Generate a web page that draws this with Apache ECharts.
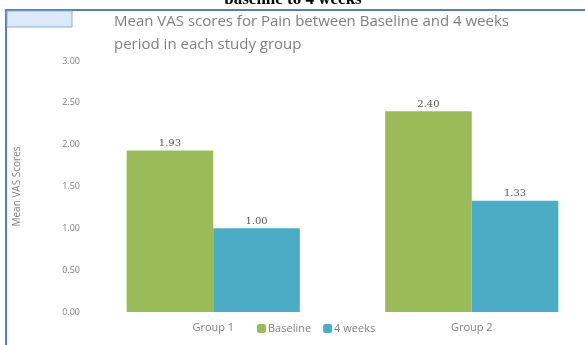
<!DOCTYPE html>
<html><head><meta charset="utf-8">
<style>html,body{margin:0;padding:0;background:#fff;overflow:hidden;}#c{width:625px;height:345px;}</style>
<script src="https://cdn.jsdelivr.net/npm/echarts@6/dist/echarts.min.js"></script>
</head><body><div id="c"></div>
<script>
const categories = ['Group 1', 'Group 2'];
const baseline = [1.93, 2.40];
const weeks4 = [1.00, 1.33];
const seriesNames = ['Baseline', '4 weeks'];
const yTicks = [0, 0.5, 1, 1.5, 2, 2.5, 3];

const chart = echarts.init(document.getElementById('c'), null, {renderer: 'canvas'});
const labelCfg = {show: true, position: 'top', distance: 2, color: '#555', fontSize: 10,
  fontFamily: 'DejaVu Serif', formatter: p => p.value.toFixed(2)};
chart.setOption({
  animation: false,
  title: {
    text: 'Mean VAS scores for Pain between Baseline and 4 weeks\nperiod in each study group',
    left: 109, top: 5,
    textStyle: {color: '#7f7f7f', fontSize: 15, fontWeight: 'normal', fontFamily: 'Open Sans', lineHeight: 23}
  },
  graphic: [
    {type: 'rect', shape: {x: 6, y: 10, width: 640, height: 340}, style: {fill: 'none', stroke: '#4f81bd', lineWidth: 2}, z: 10},
    {type: 'rect', shape: {x: 7, y: 11, width: 65, height: 16}, style: {fill: '#dce9f8', stroke: '#8eaed6', lineWidth: 1}, z: 11},
    {type: 'text', x: 293, y: 8, z: 20, style: {text: 'baseline to 4 weeks', font: 'bold 17px "Liberation Serif"', fill: '#000', align: 'center', verticalAlign: 'bottom'}}
  ],
  legend: {
    data: seriesNames, left: 252, top: 318, itemWidth: 9, itemHeight: 9, itemGap: 12,
    textStyle: {color: '#7f7f7f', fontSize: 11, fontFamily: 'Open Sans', padding: [0, 0, 0, -3]}
  },
  grid: {left: 84, top: 61, width: 517, height: 251},
  xAxis: {
    type: 'category', data: categories,
    axisLine: {show: false}, axisTick: {show: false},
    axisLabel: {color: '#7f7f7f', fontSize: 11, fontFamily: 'Open Sans', margin: 10}
  },
  yAxis: {
    type: 'value', min: 0, max: 3, interval: 0.5,
    name: 'Mean VAS Scores', nameLocation: 'middle', nameGap: 62, nameRotate: 90,
    nameTextStyle: {color: '#7f7f7f', fontSize: 10, fontFamily: 'Open Sans'},
    splitLine: {show: false}, axisLine: {show: false}, axisTick: {show: false},
    axisLabel: {color: '#7f7f7f', fontSize: 9, fontFamily: 'Open Sans', margin: 4,
      formatter: v => yTicks.includes(v) ? v.toFixed(2) : ''}
  },
  series: [
    {name: seriesNames[0], type: 'bar', data: baseline, barCategoryGap: '33%', barGap: '0%',
      itemStyle: {color: '#9bbb59'}, label: labelCfg},
    {name: seriesNames[1], type: 'bar', data: weeks4, barCategoryGap: '33%', barGap: '0%',
      itemStyle: {color: '#4bacc6'}, label: labelCfg}
  ]
});
</script></body></html>
